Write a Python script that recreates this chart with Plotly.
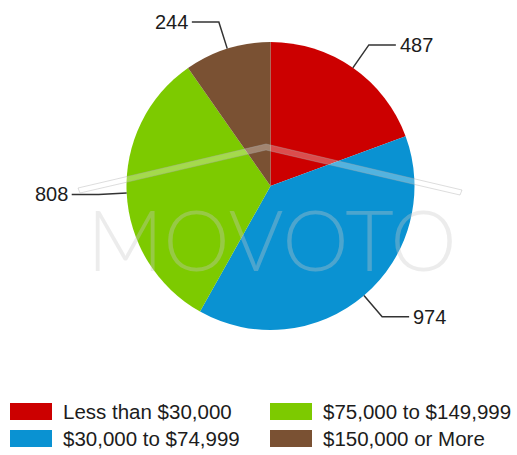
import math
import plotly.graph_objects as go

# ---- data ----
labels = ["Less than $30,000", "$30,000 to $74,999", "$75,000 to $149,999", "$150,000 or More"]
values = [487, 974, 808, 244]
colors = ["#CC0000", "#0A92D2", "#7DCA00", "#7A5133"]
legend_order = [0, 2, 1, 3]  # row-wise: red, green / blue, brown

W, H = 517, 455
cx, cy, R = 270.5, 186.0, 144.0   # pie centre/radius in pixels


def px(x):
    return x / W


def py(y):
    return 1 - y / H


fig = go.Figure()
fig.add_trace(go.Pie(
    labels=labels, values=values, sort=False, direction="clockwise", rotation=0,
    marker=dict(colors=colors, line=dict(width=0)),
    textinfo="none", hoverinfo="label+value", showlegend=False,
    domain=dict(x=[px(cx - R), px(cx + R)], y=[py(cy + R), py(cy - R)]),
))

shapes = []
annotations = []

# leader lines + value labels, computed from slice mid-angles
total = sum(values)
cum = 0.0
for v in values:
    mid = (cum + v / 2) / total * 2 * math.pi
    cum += v
    s, c = math.sin(mid), math.cos(mid)
    x0, y0 = cx + R * s, cy - R * c
    x1, y1 = cx + 172 * s, cy - 172 * c
    side = 1 if s >= 0 else -1
    x2 = x1 + side * 27
    shapes.append(dict(type="path", xref="paper", yref="paper",
                       path=f"M {px(x0)},{py(y0)} L {px(x1)},{py(y1)} L {px(x2)},{py(y1)}",
                       line=dict(color="#333333", width=1.5)))
    annotations.append(dict(xref="paper", yref="paper", x=px(x2 + side * 2), y=py(y1),
                            text=str(v), showarrow=False,
                            xanchor="left" if side > 0 else "right", yanchor="middle",
                            font=dict(family="Liberation Sans, Arial", size=20, color="#1c1c1c")))

# watermark (roof + MOVOTO)
shapes.append(dict(type="path", xref="paper", yref="paper",
                   path=f"M {px(78)},{py(188)} L {px(266)},{py(144)} L {px(462)},{py(190)} "
                        f"L {px(460)},{py(195)} L {px(266)},{py(150)} L {px(80)},{py(193)} Z",
                   line=dict(color="rgba(170,170,170,0.4)", width=1),
                   fillcolor="rgba(255,255,255,0.3)", layer="above"))
annotations.append(dict(xref="paper", yref="paper", x=px(272), y=py(238), text="MOVOTO",
                        showarrow=False, xanchor="center", yanchor="middle",
                        font=dict(family="Lato", weight=300, size=84, color="rgba(200,200,200,0.35)")))

# legend (two columns)
col_x = [10, 270]
row_y = [411.5, 438.5]
for k, i in enumerate(legend_order):
    r, cidx = divmod(k, 2)
    sx, sy = col_x[cidx], row_y[r]
    shapes.append(dict(type="rect", xref="paper", yref="paper",
                       x0=px(sx), x1=px(sx + 42), y0=py(sy - 8.5), y1=py(sy + 8.5),
                       fillcolor=colors[i], line=dict(width=0)))
    annotations.append(dict(xref="paper", yref="paper", x=px(sx + 51), y=py(sy),
                            text=labels[i], showarrow=False, xanchor="left", yanchor="middle",
                            font=dict(family="Liberation Sans, Arial", size=20.5, color="#1c1c1c")))

fig.update_layout(
    width=W, height=H, margin=dict(l=0, r=0, t=0, b=0),
    paper_bgcolor="white", plot_bgcolor="white",
    shapes=shapes, annotations=annotations, showlegend=False,
)
fig.write_html("out.html")
